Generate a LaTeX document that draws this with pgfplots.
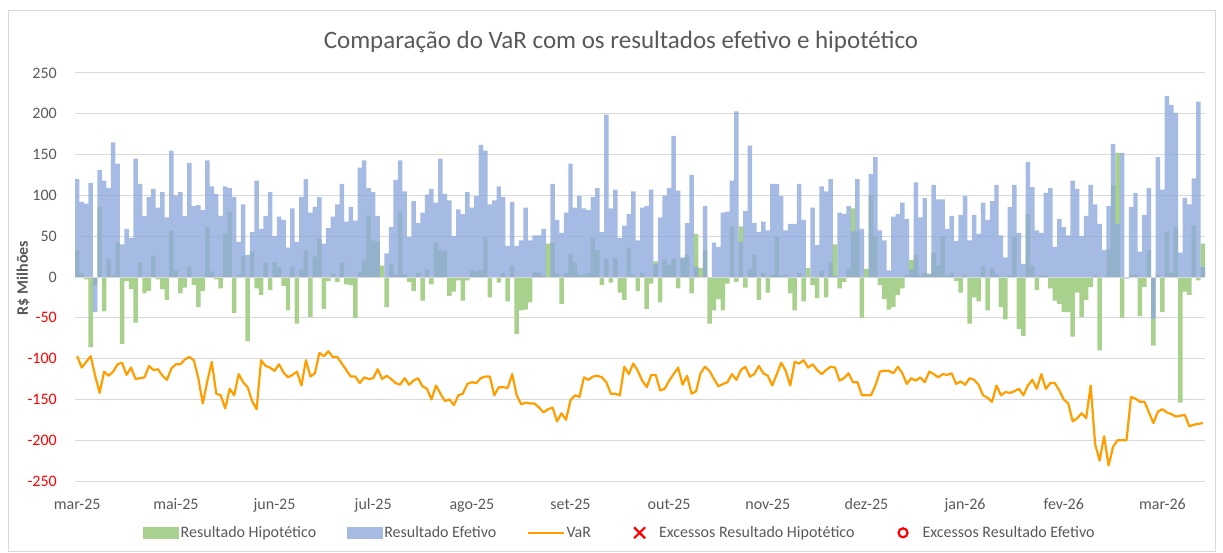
\documentclass[border=0pt]{standalone}
\usepackage{pgfplots}
\pgfplotsset{compat=1.18}
\usepackage{pgfplotstable}
\usepackage{fontspec}
\setmainfont{Carlito}
\definecolor{tcol}{RGB}{89,89,89}
\definecolor{hipgreen}{RGB}{169,209,142}
\definecolor{efeblue}{RGB}{143,170,220}
\definecolor{varorange}{RGB}{255,158,0}
\definecolor{gridc}{RGB}{217,217,217}

\pgfplotstableread{
i g b v
0 33 120 -97
1 5 92 -111
2 -3 90 -104
3 -86 115 -97
4 -10 -43 -121
5 86 131 -142
6 -42 118 -116
7 22 109 -121
8 2 165 -116
9 42 139 -107
10 -82 40 -105
11 -5 59 -120
12 -15 48 -111
13 -56 145 -125
14 18 114 -124
15 -20 75 -123
16 -17 98 -109
17 26 108 -114
18 -3 85 -113
19 -15 104 -121
20 -28 73 -126
21 57 155 -112
22 8 100 -107
23 -20 104 -107
24 -13 75 -101
25 12 140 -98
26 -10 87 -102
27 -37 88 -124
28 -17 82 -155
29 61 143 -128
30 7 111 -104
31 -3 102 -143
32 -14 75 -145
33 53 111 -161
34 80 109 -137
35 -44 98 -145
36 3 43 -119
37 26 89 -129
38 -79 27 -135
39 31 55 -152
40 -14 118 -162
41 -22 59 -102
42 18 75 -109
43 -16 104 -111
44 18 50 -115
45 12 74 -107
46 -11 70 -117
47 -41 36 -123
48 12 84 -120
49 -57 43 -116
50 10 98 -133
51 33 120 -102
52 -49 79 -122
53 25 86 -118
54 47 98 -93
55 -39 41 -97
56 -5 60 -91
57 4 74 -98
58 -6 89 -98
59 18 114 -106
60 -9 68 -114
61 -10 86 -122
62 -50 69 -122
63 6 134 -130
64 20 143 -123
65 75 109 -125
66 45 104 -124
67 43 75 -113
68 14 0 -125
69 -37 29 -121
70 16 61 -125
71 3 119 -130
72 80 143 -132
73 3 105 -124
74 -6 49 -132
75 -17 93 -127
76 5 66 -124
77 -29 79 -134
78 9 101 -137
79 -9 108 -150
80 42 91 -133
81 33 145 -143
82 32 102 -152
83 -23 94 -150
84 -18 50 -157
85 -4 83 -145
86 -29 77 -143
87 -4 104 -131
88 8 85 -129
89 7 99 -130
90 8 162 -124
91 49 155 -122
92 -25 89 -122
93 0 94 -145
94 -7 111 -135
95 5 98 -135
96 -30 38 -136
97 14 92 -119
98 -70 38 -145
99 -41 45 -156
100 -40 85 -154
101 -31 45 -155
102 6 51 -155
103 5 51 -160
104 1 59 -166
105 41 0 -162
106 42 114 -160
107 4 70 -177
108 -33 54 -167
109 5 79 -175
110 28 139 -151
111 18 85 -145
112 3 99 -147
113 3 84 -123
114 5 82 -126
115 48 98 -122
116 33 109 -121
117 -10 55 -123
118 22 199 -129
119 -7 84 -143
120 23 107 -143
121 -19 48 -145
122 -28 63 -110
123 36 77 -119
124 3 105 -106
125 -17 45 -115
126 5 85 -127
127 -39 87 -135
128 -8 107 -120
129 19 16 -120
130 -31 73 -139
131 21 100 -137
132 15 109 -127
133 22 173 -119
134 -14 106 -111
135 22 24 -132
136 27 66 -121
137 -20 125 -143
138 53 12 -140
139 11 0 -118
140 33 87 -110
141 -57 0 -115
142 -41 42 -125
143 -27 37 -134
144 -41 79 -131
145 -8 80 -129
146 62 118 -119
147 -6 203 -126
148 62 43 -114
149 -13 81 -110
150 10 161 -122
151 27 66 -119
152 -28 55 -109
153 5 68 -118
154 -19 57 -121
155 3 114 -133
156 49 114 -119
157 2 99 -105
158 3 57 -115
159 -20 65 -133
160 -41 65 -104
161 5 114 -106
162 -30 70 -102
163 11 0 -111
164 -10 85 -107
165 -26 39 -114
166 8 111 -119
167 -25 105 -114
168 18 120 -110
169 40 1 -111
170 -14 79 -127
171 -6 77 -124
172 10 87 -118
173 84 56 -129
174 56 120 -129
175 -50 59 -145
176 10 0 -145
177 100 126 -145
178 50 147 -133
179 -10 57 -116
180 -27 45 -115
181 -40 8 -115
182 -37 74 -118
183 -22 77 -110
184 -14 91 -118
185 3 71 -131
186 21 9 -124
187 27 116 -127
188 2 73 -123
189 5 97 -129
190 3 4 -116
191 30 113 -119
192 14 95 -123
193 50 95 -119
194 2 59 -120
195 5 75 -118
196 -5 44 -131
197 -19 76 -128
198 3 99 -132
199 -57 45 -124
200 -25 76 -126
201 -30 53 -132
202 13 91 -145
203 -41 70 -148
204 11 93 -153
205 3 113 -133
206 -37 51 -145
207 -52 24 -141
208 2 86 -142
209 49 113 -140
210 -64 54 -137
211 -72 16 -145
212 77 141 -133
213 14 110 -126
214 -16 57 -137
215 2 54 -119
216 2 103 -137
217 -14 109 -130
218 -29 37 -130
219 -33 71 -139
220 -43 61 -150
221 -43 51 -155
222 -73 118 -177
223 -19 108 -173
224 -49 50 -167
225 -28 75 -173
226 -12 113 -133
227 2 89 -205
228 -90 65 -225
229 0 33 -195
230 34 87 -231
231 112 163 -208
232 152 65 -200
233 -50 152 -200
234 0 -2 -200
235 3 86 -147
236 3 103 -149
237 -48 31 -153
238 -12 76 -153
239 33 109 -166
240 -84 -51 -179
241 3 147 -165
242 -43 107 -162
243 55 222 -166
244 5 211 -168
245 61 201 -171
246 -154 30 -170
247 -18 97 -169
248 -22 89 -183
249 63 121 -181
250 -4 215 -180
251 41 12 -179
}\data

\begin{document}
\begin{tikzpicture}[x=1pt,y=1pt]
\useasboundingbox (0,0) rectangle (1223,552);
\draw[gridc, line width=0.8pt] (8.5,1) rectangle (1215.5,542);
\node[font=\fontsize{25}{30}\selectfont, text=tcol] at (621,510) {Comparação do VaR com os resultados efetivo e hipotético};
\node[rotate=90, font=\fontsize{16}{19}\selectfont\bfseries, text=tcol] at (23,274) {R\$ Milhões};
\begin{axis}[
  at={(75pt,71pt)}, anchor=south west, scale only axis,
  width=1130pt, height=408pt,
  xmin=-0.5, xmax=251.5, ymin=-250, ymax=250,
  axis line style={draw=none}, major tick length=0pt,
  ymajorgrids, grid style={gridc, line width=1pt},
  ytick={-250,-200,-150,-100,-50,0,50,100,150,200,250},
  yticklabels={{\color{red}-250},{\color{red}-200},{\color{red}-150},{\color{red}-100},{\color{red}-50},0,50,100,150,200,250},
  yticklabel style={anchor=east, inner sep=0pt, xshift=-18pt, font=\fontsize{16}{19}\selectfont, text=tcol},
  xtick={0,22,...,242},
  xticklabels={mar-25,mai-25,jun-25,jul-25,ago-25,set-25,out-25,nov-25,dez-25,jan-26,fev-26,mar-26},
  xticklabel style={anchor=center, inner sep=0pt, yshift=-24pt, font=\fontsize{16}{19}\selectfont, text=tcol, text height=11pt, text depth=3pt},
  legend columns=5,
  legend style={at={(0.482,-0.127)}, anchor=center, draw=none, fill=none,
    font=\fontsize{16}{19}\selectfont, text=tcol, nodes={inner sep=1.5pt},
    /tikz/every even column/.append style={column sep=29pt}},
]
\addplot[ybar, bar width=1, bar shift=0pt, fill=hipgreen, draw=none,
  legend image code/.code={\fill[hipgreen] (0pt,-6pt) rectangle (36pt,6pt);}]
  table[x=i,y=g]{\data};
\addlegendentry{Resultado Hipotético}
\addplot[ybar, bar width=1, bar shift=0pt, fill=efeblue, fill opacity=0.8, draw=none,
  legend image code/.code={\fill[efeblue, fill opacity=0.8] (0pt,-6pt) rectangle (36pt,6pt);}]
  table[x=i,y=b]{\data};
\addlegendentry{Resultado Efetivo}
\draw[gridc, line width=1pt] (axis cs:-0.5,0) -- (axis cs:251.5,0);
\addplot[varorange, line width=2.2pt, line join=round, mark=none,
  legend image code/.code={\draw[varorange, line width=2.2pt] (0pt,0pt) -- (36pt,0pt);}]
  table[x=i,y=v]{\data};
\addlegendentry{VaR}
\addlegendimage{legend image code/.code={\path[draw=none, fill=none] (0pt,-6pt) rectangle (36pt,6pt); \draw[red, line width=2.2pt] (12.5pt,-5.5pt) -- (23.5pt,5.5pt) (12.5pt,5.5pt) -- (23.5pt,-5.5pt);}}
\addlegendentry{Excessos Resultado Hipotético}
\addlegendimage{legend image code/.code={\path[draw=none, fill=none] (0pt,-6pt) rectangle (36pt,6pt); \draw[red, line width=2.2pt] (18pt,0pt) circle (4.5pt);}}
\addlegendentry{Excessos Resultado Efetivo}
\end{axis}
\end{tikzpicture}
\end{document}
